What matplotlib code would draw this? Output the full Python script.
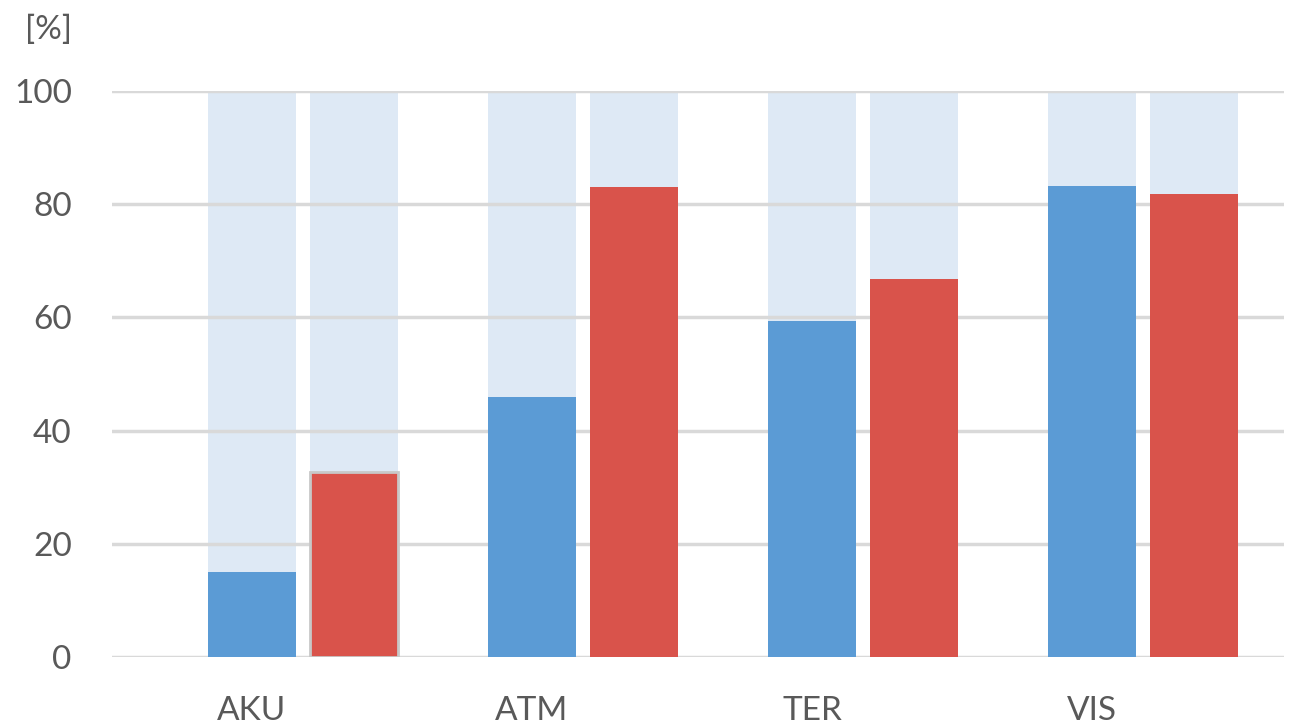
import numpy as np
import matplotlib.pyplot as plt

plt.rcParams['font.family'] = ['Lato', 'DejaVu Sans']

categories = ['AKU', 'ATM', 'TER', 'VIS']
blue_vals = [15, 46, 59.3, 83.2]
red_vals = [32.6, 83, 66.8, 81.8]
yticks = [0, 20, 40, 60, 80, 100]

fig = plt.figure(figsize=(12.96, 7.26), dpi=100)
ax = fig.add_axes([112/1296, 1 - 657/726, (1284 - 112)/1296, (657 - 91)/726])

x = np.arange(len(categories))
w = 0.314
off = 0.364
text_col = '#595959'

# light background bars up to 100
ax.bar(x, [100]*4, width=w, color='#DEE9F5', zorder=1)
ax.bar(x + off, [100]*4, width=w, color='#DEE9F5', zorder=1)

ax.bar(x, blue_vals, width=w, color='#5B9BD5', zorder=3)
ax.bar(x + off, red_vals, width=w, color='#D9534B', zorder=3)
# AKU red bar is shown with a grey outline
ax.bar(x[0] + off, red_vals[0], width=w, facecolor='none', edgecolor='#C8C8C8', linewidth=2, zorder=4)

ax.set_xlim(-0.5, 3.686)
ax.set_ylim(0, 100)
ax.set_yticks(yticks)
ax.set_yticklabels([str(v) for v in yticks])
ax.set_xticks(x)
ax.set_xticklabels(categories)
ax.yaxis.grid(True, color='#D9D9D9', linewidth=2.5, zorder=2)
ax.set_axisbelow(False)
for s in ax.spines.values():
    s.set_visible(False)
ax.tick_params(axis='both', length=0, labelsize=24, labelcolor=text_col)
ax.tick_params(axis='y', pad=29)
ax.tick_params(axis='x', pad=28)

fig.text(48/1296, 1 - 30/726, '[%]', fontsize=24, color=text_col, ha='center', va='center')

fig.savefig('out.png', dpi=100)
